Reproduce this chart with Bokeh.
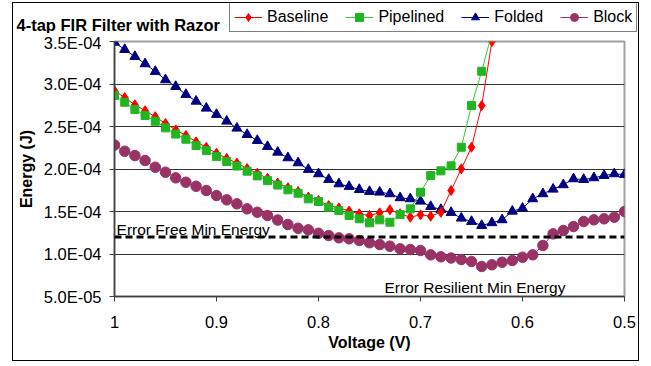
from bokeh.plotting import figure
from bokeh.layouts import column
from bokeh.models import (Range1d, FixedTicker, Legend, LegendItem, Label, Span)
from bokeh.embed import file_html
from bokeh.resources import INLINE

# ---------------- data ----------------
voltage = [1.00, 0.99, 0.98, 0.97, 0.96, 0.95, 0.94, 0.93, 0.92, 0.91,
           0.90, 0.89, 0.88, 0.87, 0.86, 0.85, 0.84, 0.83, 0.82, 0.81,
           0.80, 0.79, 0.78, 0.77, 0.76, 0.75, 0.74, 0.73, 0.72, 0.71,
           0.70, 0.69, 0.68, 0.67, 0.66, 0.65, 0.64, 0.63, 0.62, 0.61,
           0.60, 0.59, 0.58, 0.57, 0.56, 0.55, 0.54, 0.53, 0.52, 0.51,
           0.50]

# Baseline and Pipelined are plotted from 1.00 V down to 0.63 V
voltage_short = [1.00, 0.99, 0.98, 0.97, 0.96, 0.95, 0.94, 0.93, 0.92, 0.91,
                 0.90, 0.89, 0.88, 0.87, 0.86, 0.85, 0.84, 0.83, 0.82, 0.81,
                 0.80, 0.79, 0.78, 0.77, 0.76, 0.75, 0.74, 0.73, 0.72, 0.71,
                 0.70, 0.69, 0.68, 0.67, 0.66, 0.65, 0.64, 0.63]

baseline = [2.920e-4, 2.840e-4, 2.755e-4, 2.685e-4, 2.615e-4, 2.535e-4, 2.460e-4, 2.395e-4, 2.320e-4, 2.255e-4,
            2.185e-4, 2.125e-4, 2.070e-4, 2.005e-4, 1.950e-4, 1.890e-4, 1.835e-4, 1.780e-4, 1.735e-4, 1.670e-4,
            1.630e-4, 1.570e-4, 1.543e-4, 1.506e-4, 1.473e-4, 1.453e-4, 1.484e-4, 1.520e-4, 1.473e-4, 1.433e-4,
            1.461e-4, 1.444e-4, 1.491e-4, 1.747e-4, 2.002e-4, 2.256e-4, 2.746e-4, 3.500e-4]

pipelined = [2.864e-4, 2.785e-4, 2.699e-4, 2.629e-4, 2.562e-4, 2.484e-4, 2.411e-4, 2.350e-4, 2.276e-4, 2.217e-4,
             2.146e-4, 2.088e-4, 2.035e-4, 1.974e-4, 1.919e-4, 1.864e-4, 1.811e-4, 1.755e-4, 1.715e-4, 1.649e-4,
             1.617e-4, 1.550e-4, 1.511e-4, 1.453e-4, 1.414e-4, 1.367e-4, 1.402e-4, 1.374e-4, 1.464e-4, 1.531e-4,
             1.727e-4, 1.923e-4, 1.978e-4, 2.037e-4, 2.256e-4, 2.746e-4, 3.150e-4, 3.600e-4]

folded = [3.490e-4, 3.405e-4, 3.323e-4, 3.237e-4, 3.147e-4, 3.049e-4, 2.970e-4, 2.876e-4, 2.797e-4, 2.715e-4,
          2.641e-4, 2.562e-4, 2.480e-4, 2.405e-4, 2.335e-4, 2.264e-4, 2.197e-4, 2.131e-4, 2.072e-4, 1.994e-4,
          1.943e-4, 1.876e-4, 1.825e-4, 1.794e-4, 1.758e-4, 1.735e-4, 1.727e-4, 1.708e-4, 1.661e-4, 1.649e-4,
          1.621e-4, 1.558e-4, 1.523e-4, 1.488e-4, 1.421e-4, 1.382e-4, 1.335e-4, 1.367e-4, 1.402e-4, 1.503e-4,
          1.538e-4, 1.649e-4, 1.708e-4, 1.762e-4, 1.814e-4, 1.884e-4, 1.876e-4, 1.896e-4, 1.923e-4, 1.943e-4,
          1.935e-4]

block = [2.282e-4, 2.209e-4, 2.158e-4, 2.100e-4, 2.021e-4, 1.962e-4, 1.896e-4, 1.844e-4, 1.797e-4, 1.747e-4,
         1.688e-4, 1.637e-4, 1.590e-4, 1.531e-4, 1.491e-4, 1.453e-4, 1.400e-4, 1.347e-4, 1.303e-4, 1.284e-4,
         1.244e-4, 1.217e-4, 1.190e-4, 1.179e-4, 1.159e-4, 1.132e-4, 1.112e-4, 1.092e-4, 1.061e-4, 1.053e-4,
         1.041e-4, 0.990e-4, 0.967e-4, 0.953e-4, 0.935e-4, 0.912e-4, 0.853e-4, 0.873e-4, 0.903e-4, 0.923e-4,
         0.962e-4, 0.990e-4, 1.100e-4, 1.237e-4, 1.276e-4, 1.323e-4, 1.382e-4, 1.402e-4, 1.414e-4, 1.433e-4,
         1.500e-4]

error_free_min_energy = 1.2e-4

x_tick_vals = [1.0, 0.9, 0.8, 0.7, 0.6, 0.5]
x_tick_labels = ["1", "0.9", "0.8", "0.7", "0.6", "0.5"]
y_tick_vals = [5e-5, 1e-4, 1.5e-4, 2e-4, 2.5e-4, 3e-4, 3.5e-4]
y_tick_labels = ["5.0E-05", "1.0E-04", "1.5E-04", "2.0E-04", "2.5E-04", "3.0E-04", "3.5E-04"]

series_names = ["Baseline", "Pipelined", "Folded", "Block"]
chart_title = "4-tap FIR Filter with Razor"

# ---------------- styles ----------------
FONT = "Liberation Sans"
RED = "#FF0000"
GREEN = "#22B522"
GREEN_LINE = "#33CC33"
NAVY = "#000080"
PLUM = "#993366"

SERIES = [
    (voltage_short, baseline, RED, RED, "diamond", 10),
    (voltage_short, pipelined, GREEN_LINE, GREEN, "square", 8),
    (voltage, folded, NAVY, NAVY, "triangle", 10),
    (voltage, block, PLUM, PLUM, "circle", 10.5),
]


def draw_series(fig, order):
    out = {}
    for i in order:
        xs, ys, lc, mc, marker, size = SERIES[i]
        out[i] = (fig.line(xs, ys, line_color=lc, line_width=1),
                  fig.scatter(xs, ys, marker=marker, size=size, fill_color=mc, line_color=mc))
    return out


def no_frame_align(fig):
    try:
        fig.frame_align = False
    except Exception:
        pass


FIG_W = 625

# ---------------- header (title + legend) ----------------
head = figure(width=FIG_W, height=30, output_backend="svg", toolbar_location=None,
              x_range=Range1d(0, FIG_W), y_range=Range1d(-130, -100),
              x_axis_type=None, y_axis_type=None,
              min_border_left=0, min_border_right=0, min_border_top=0, min_border_bottom=0)
no_frame_align(head)
head.title.visible = False
head.grid.visible = False
head.outline_line_color = None
head.background_fill_color = "white"
head.border_fill_color = "white"

head_rs = draw_series(head, [0, 1, 2, 3])   # outside the header's ranges; legend swatches only
legend = Legend(items=[LegendItem(label=series_names[i], renderers=list(head_rs[i]))
                       for i in range(4)],
                orientation="horizontal", location=(216, 1))
legend.border_line_color = "black"
legend.border_line_width = 1
legend.background_fill_color = "white"
legend.background_fill_alpha = 1
legend.label_text_font = FONT
legend.label_text_font_size = "16px"
legend.label_text_color = "black"
legend.glyph_width = 28
legend.glyph_height = 20
legend.label_height = 20
legend.label_standoff = 5
legend.spacing = 17
legend.padding = 4
legend.margin = 0
head.add_layout(legend)

head.add_layout(Label(x=3, y=-121.0, text=chart_title,
                      text_font=FONT, text_font_size="16.5px", text_font_style="bold",
                      text_color="black", text_baseline="alphabetic"))

# ---------------- main plot ----------------
p = figure(width=FIG_W, height=327, output_backend="svg", toolbar_location=None,
           x_range=Range1d(1.0, 0.5), y_range=Range1d(5e-5, 3.5e-4),
           min_border_left=101, min_border_right=14, min_border_top=8, min_border_bottom=64)
no_frame_align(p)
p.title.visible = False
p.background_fill_color = "white"
p.border_fill_color = "white"
p.outline_line_color = "#a0a0a0"
p.outline_line_width = 2

p.xgrid.visible = False
p.ygrid.ticker = FixedTicker(ticks=y_tick_vals)
p.ygrid.grid_line_color = "#333333"
p.ygrid.grid_line_width = 1

for ax in (p.xaxis[0], p.yaxis[0]):
    ax.axis_line_color = "#404040"
    ax.axis_line_width = 1.5
    ax.major_tick_line_color = "#404040"
    ax.major_tick_in = 0
    ax.major_tick_out = 5
    ax.minor_tick_line_color = None
    ax.major_label_text_font = FONT
    ax.major_label_text_font_size = "16.5px"
    ax.major_label_text_color = "black"
    ax.axis_label_text_font = FONT
    ax.axis_label_text_font_size = "16px"
    ax.axis_label_text_font_style = "bold"
    ax.axis_label_text_color = "black"

p.xaxis.ticker = FixedTicker(ticks=x_tick_vals)
p.xaxis.major_label_overrides = dict(zip(x_tick_vals, x_tick_labels))
p.xaxis.axis_label = "Voltage (V)"
p.xaxis.major_label_standoff = 14
p.xaxis.axis_label_standoff = 3

p.yaxis.ticker = FixedTicker(ticks=y_tick_vals)
p.yaxis.major_label_overrides = dict(zip(y_tick_vals, y_tick_labels))
p.yaxis.axis_label = "Energy (J)"
p.yaxis.major_label_standoff = 8
p.yaxis.axis_label_standoff = 6

p.add_layout(Span(location=error_free_min_energy, dimension="width",
                  line_color="black", line_width=3, line_dash="7 4"))

# draw order: Block, Folded, Baseline, Pipelined
draw_series(p, [3, 2, 0, 1])

p.add_layout(Label(x=0.998, y=1.288e-4, text="Error Free Min Energy",
                   text_font=FONT, text_font_size="15.5px", text_color="black",
                   text_baseline="alphabetic"))
p.add_layout(Label(x=0.7353, y=0.609e-4, text="Error Resilient Min Energy",
                   text_font=FONT, text_font_size="15.5px", text_color="black",
                   text_baseline="alphabetic"))

layout = column(head, p, spacing=0, margin=(2, 0, 0, 12),
                styles={"border": "1px solid black", "background-color": "white"})

open("out.html", "w").write(file_html(layout, INLINE))
